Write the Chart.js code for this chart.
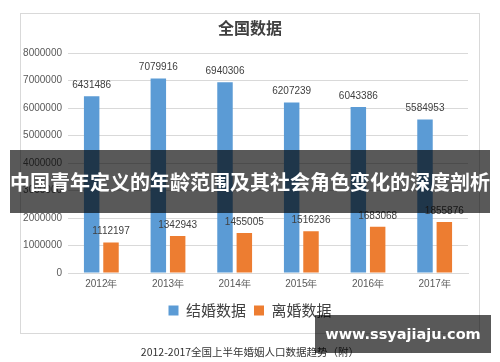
<!DOCTYPE html>
<html>
<head>
<meta charset="utf-8">
<script src="https://cdn.jsdelivr.net/npm/chart.js@4.4.1/dist/chart.umd.min.js"></script>
<style>
  body { margin: 0; background: #fff; }
  #wrap { position: relative; width: 500px; height: 362px; overflow: hidden; background: #fff; }
  #frame { position: absolute; left: 20px; top: 13px; width: 458px; height: 319px; border: 1px solid #d9d9d9; }
  #chart { position: absolute; left: 0; top: 0; }
  #banner { position: absolute; left: 10px; top: 150px; width: 480px; height: 63px; background: rgba(0,0,0,0.65);
    color: #fff; font: bold 20px "Noto Sans CJK SC", sans-serif; line-height: 63px; text-align: center; white-space: nowrap; }
  #caption { position: absolute; left: 0; width: 500px; top: 344px; text-align: center; color: #333;
    font: 10.5px "Noto Sans CJK SC", sans-serif; }
  #mark { position: absolute; left: 315px; top: 315px; width: 176px; height: 38px; background: rgba(0,0,0,0.65);
    color: #fff; font: bold 14.5px "DejaVu Sans", sans-serif; line-height: 38px; text-align: center; }
</style>
</head>
<body>
<div id="wrap">
  <div id="frame"></div>
  <canvas id="chart" width="500" height="362"></canvas>
  <div id="caption">2012-2017全国上半年婚姻人口数据趋势（附）</div>
  <div id="banner">中国青年定义的年龄范围及其社会角色变化的深度剖析</div>
  <div id="mark">www.ssyajiaju.com</div>
</div>
<script>
years = ['2012年', '2013年', '2014年', '2015年', '2016年', '2017年']
marriage = [6431486, 7079916, 6940306, 6207239, 6043386, 5584953]
divorce = [1112197, 1342943, 1455005, 1516236, 1683068, 1855876]
yTicks = [0, 1000000, 2000000, 3000000, 4000000, 5000000, 6000000, 7000000, 8000000]

numFont = '"Liberation Sans Narrow", "Liberation Sans", sans-serif'

// value labels above each bar
valueLabels = {
    id: 'valueLabels',
    afterDatasetsDraw(chart) {
        let c = chart.ctx
        c.save()
        c.font = '10px ' + numFont
        c.fillStyle = '#404040'
        c.textAlign = 'center'
        c.textBaseline = 'bottom'
        chart.data.datasets.forEach((ds, i) => {
            chart.getDatasetMeta(i).data.forEach((bar, j) => {
                c.fillText(String(ds.data[j]), bar.x, bar.y - 6)
            })
        })
        c.restore()
    }
}

// center title + legend on the frame, not on the plot
centerBlocks = {
    id: 'centerBlocks',
    afterLayout(chart) {
        [chart.titleBlock, chart.legend].forEach(b => {
            b.left += 16
            b.right += 16
        })
    }
}

ctx = document.getElementById('chart')
myChart = new Chart(ctx, {
    type: 'bar',
    data: {
        labels: years,
        datasets: [
            { label: '结婚数据', data: marriage, backgroundColor: '#5b9bd5', categoryPercentage: 0.58, barPercentage: 0.8 },
            { label: '离婚数据', data: divorce, backgroundColor: '#ed7d31', categoryPercentage: 0.58, barPercentage: 0.8 }
        ]
    },
    options: {
        responsive: false,
        animation: false,
        layout: { padding: { top: 18, right: 32, bottom: 34, left: 0 } },
        plugins: {
            title: {
                display: true,
                text: '全国数据',
                color: '#404040',
                font: { family: '"Noto Sans CJK SC", sans-serif', size: 16, weight: 'bold', lineHeight: 1.2 },
                padding: { top: 0, bottom: 16 }
            },
            legend: {
                position: 'bottom',
                labels: {
                    boxWidth: 10, boxHeight: 10, padding: 8,
                    color: '#404040',
                    font: { family: '"Noto Sans CJK SC", sans-serif', size: 15 }
                }
            },
            tooltip: { enabled: false }
        },
        scales: {
            x: {
                grid: { display: false, drawTicks: false },
                border: { display: true, color: '#d9d9d9' },
                ticks: { color: '#595959', font: { family: numFont, size: 10 }, padding: 5 }
            },
            y: {
                min: 0,
                max: 8000000,
                afterFit: function(scale) { scale.width = 68 },
                afterBuildTicks: function(scale) { scale.ticks = yTicks.map(v => ({ value: v })) },
                grid: { color: '#d9d9d9', drawTicks: false },
                border: { display: false },
                ticks: { color: '#595959', font: { family: numFont, size: 10 }, padding: 6,
                    callback: function(v) { return String(v) } }
            }
        }
    },
    plugins: [valueLabels, centerBlocks]
})
</script>
</body>
</html>
